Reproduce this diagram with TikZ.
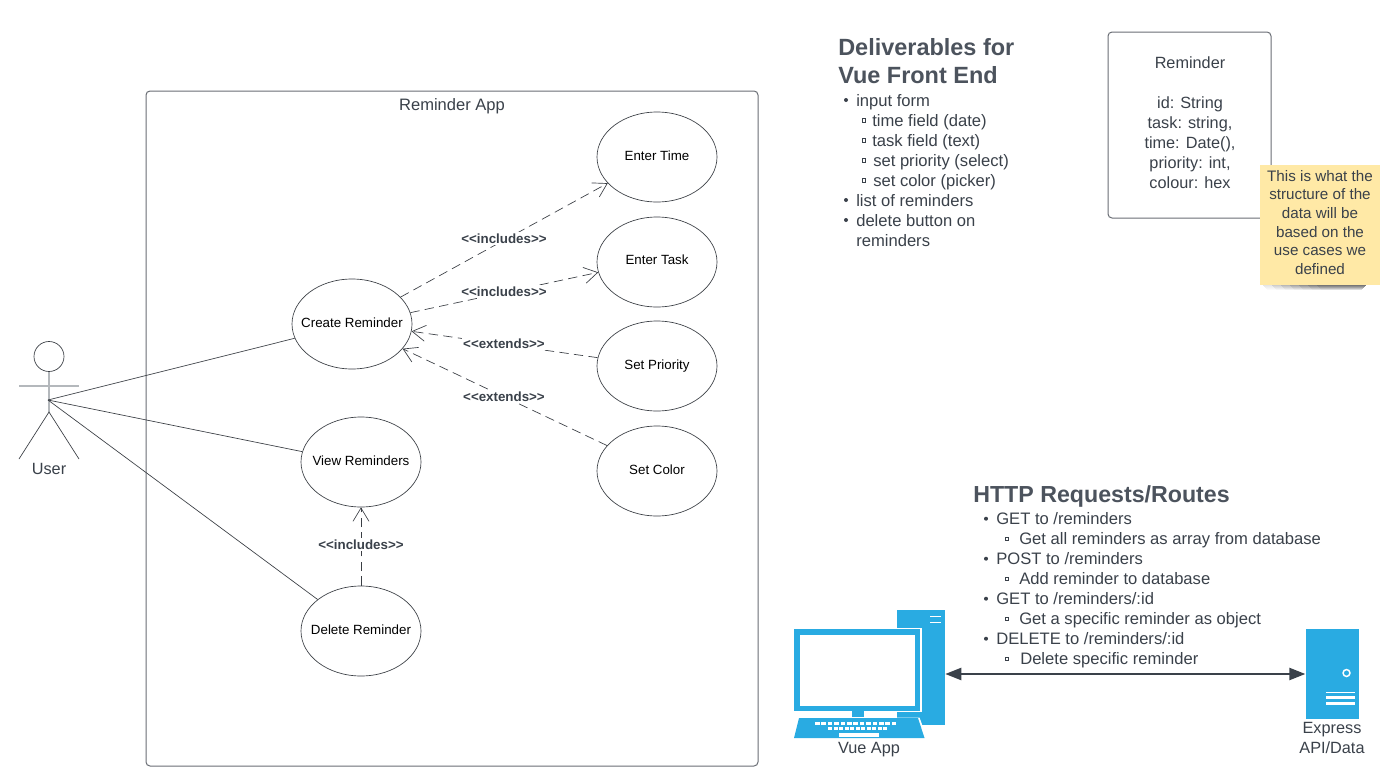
\documentclass[tikz,border=0pt]{standalone}
\usepackage{fontspec}
\setmainfont{Liberation Sans}
\usetikzlibrary{arrows.meta,shapes.geometric}
\definecolor{txt}{HTML}{3A414A}
\definecolor{ttl}{HTML}{4C535D}
\definecolor{lin}{HTML}{3A3E44}
\definecolor{boxc}{HTML}{6A6E75}
\definecolor{blu}{HTML}{29ABE2}
\definecolor{stick}{HTML}{FFE9A6}
\definecolor{actc}{HTML}{B4B8BC}
\tikzset{
  usecase/.style={ellipse,draw=lin,line width=0.5pt,fill=white,minimum width=90pt,minimum height=67.5pt,inner sep=0pt,text=black,font=\fontsize{10}{12}\selectfont},
  assoc/.style={draw=lin,line width=0.5pt},
  dep/.style={draw=lin,line width=0.5pt,dash pattern=on 7pt off 4pt,-{Straight Barb[length=10pt,width=12pt,line width=0.5pt]}},
  tag/.style={fill=white,inner sep=1pt,text=txt,font=\bfseries\fontsize{10}{12}\selectfont},
  line/.style={anchor=base west,inner sep=0pt,text=txt,font=\fontsize{12.45}{15}\selectfont},
  head/.style={anchor=base west,inner sep=0pt,text=ttl,font=\bfseries\fontsize{17.6}{21}\selectfont},
  plain/.style={inner sep=0pt,text=txt,align=center,font=\fontsize{12.2}{15}\selectfont},
  device/.style={rectangle,fill=blu,inner sep=0pt},
  hole/.style={fill=white,draw=none},
}
\newcommand{\uc}[2]{\raisebox{#1pt}{\makebox[0pt][c]{#2}}}
\newcommand{\bigbul}[4]{\fill[txt] (#2-10,#3-6) circle[radius=1.5pt];\node[line] (#1) at (#2,#3) {#4};}
\newcommand{\smallbul}[5]{\draw[txt,line width=0.6pt] (#5-1.8,#3-7.5) rectangle (#5+1.8,#3-3.9);\node[line] (#1) at (#2,#3) {#4};}
\begin{document}
\begin{tikzpicture}[x=0.75pt,y=-0.75pt]
\useasboundingbox (0,0) rectangle (1390,775);
\fill[white] (0,0) rectangle (1390,775);

% system boundary
\node[draw=boxc,line width=0.75pt,rounded corners=3pt,minimum width=459pt,minimum height=506.25pt,inner sep=0pt] (app) at (452,428.5) {};
\node[plain,font=\fontsize{12.4}{15}\selectfont] (apptitle) at (452,106) {Reminder App};

% use cases
\node[usecase] (time) at (657,157) {\uc{2.5}{Enter Time}};
\node[usecase] (task) at (657,262) {\uc{3.1}{Enter Task}};
\node[usecase] (prio) at (657,366) {\uc{0}{Set Priority}};
\node[usecase] (colr) at (657,471) {\uc{2.3}{Set Color}};
\node[usecase] (create) at (352,324) {\uc{2.3}{Create Reminder}};
\node[usecase] (view) at (361,462) {\uc{2.3}{View Reminders}};
\node[usecase] (del) at (361,631) {\uc{2.3}{Delete Reminder}};

% actor
\draw[actc,line width=1.5pt] (49,372) -- (49,412);
\draw[actc,line width=1.5pt] (19,386) -- (79,386);
\node[circle,draw=lin,line width=0.5pt,fill=white,minimum size=22.5pt,inner sep=0pt] (actorhead) at (49,356.5) {};
\draw[lin,line width=0.5pt] (19,459) -- (49,412) -- (79,459);
\node[plain] (user) at (49,469) {User};
\coordinate (hub) at (48,400);

\draw[assoc] (hub) -- (create.194.7);
\draw[assoc] (hub) -- (view.170.5);
\draw[assoc] (hub) -- (del.144.8);

% dependencies
\draw[dep] (create.29.7) -- (time.208);
\draw[dep] (create.11.7) -- (task.190.6);
\draw[dep] (prio.172.4) -- (create.-7.7);
\draw[dep] (colr.153.4) -- (create.-26.6);
\draw[dep] (del.north) -- (view.south);
\node[tag] (t1) at (504,238.5) {<{}<includes>{}>};
\node[tag] (t2) at (504,291.5) {<{}<includes>{}>};
\node[tag] (t3) at (504,343.5) {<{}<extends>{}>};
\node[tag] (t4) at (504,396.5) {<{}<extends>{}>};
\node[tag] (t5) at (361,544.5) {<{}<includes>{}>};

% deliverables
\node[head] (dh1) at (838,55) {Deliverables for};
\node[head] (dh2) at (838,83) {Vue Front End};
\bigbul{d1}{856}{106}{input form}
\smallbul{d2}{872}{126}{time field (date)}{864}
\smallbul{d3}{872}{146}{task field (text)}{864}
\smallbul{d4}{873}{166}{set priority (select)}{864}
\smallbul{d5}{873}{186}{set color (picker)}{864}
\bigbul{d6}{856}{206}{list of reminders}
\bigbul{d7}{856}{226}{delete button on}
\node[line] (d8) at (856,246) {reminders};

% data structure
\node[draw=boxc,line width=0.75pt,rounded corners=3pt,minimum width=122.25pt,minimum height=139.5pt,inner sep=0pt] (rem) at (1189.5,125) {};
\node[plain] (remtext) at (1190,123) {Reminder\\[15pt]id: String\\task: string,\\time: Date(),\\priority: int,\\colour: hex};

% sticky note
\foreach \r/\o in {0/0.10,1/0.08,2/0.06,3/0.04,4/0.02} {
  \foreach \s in {1263,1272,1281,1290,1299,1308,1317} {
    \fill[black,opacity=\o] (\s+\r,285+\r) rectangle (1366-\r,286+\r);
  }
}
\node[rectangle,fill=stick,minimum width=90pt,minimum height=90pt,inner sep=0pt] (note) at (1320,225) {};
\node[inner sep=0pt,text=txt,align=center,font=\fontsize{11.4}{14}\selectfont] (notetext) at (1320,222.5) {This is what the\\structure of the\\data will be\\based on the\\use cases we\\defined};

% HTTP list
\node[head,font=\bfseries\fontsize{17.4}{21}\selectfont] (hh) at (973,502.5) {HTTP Requests/Routes};
\bigbul{h1}{996}{524.7}{GET to /reminders}
\smallbul{h2}{1019}{544.7}{Get all reminders as array from database}{1007}
\bigbul{h3}{996}{564.7}{POST to /reminders}
\smallbul{h4}{1019}{584.7}{Add reminder to database}{1007}
\bigbul{h5}{996}{604.7}{GET to /reminders/:id}
\smallbul{h6}{1019}{624.7}{Get a specific reminder as object}{1007}
\bigbul{h7}{996}{644.7}{DELETE to /reminders/:id}
\smallbul{h8}{1020}{664.7}{Delete specific reminder}{1007}

% client computer
\node[device,minimum width=36pt,minimum height=86.25pt] (tower) at (921,667.5) {};
\fill[hole] (930,615.5) rectangle (941,616.5);
\fill[hole] (930,621.5) rectangle (941,622.5);
\fill[white] (793,628) rectangle (921.5,712);
\fill[blu] (794,629) rectangle (920,710.5);
\fill[hole] (800,635) rectangle (914.5,706);
\fill[blu] (851.5,711) rectangle (863.5,717);
\fill[white] (798,717.5) -- (919.5,717.5) -- (927,738) -- (926,738.5) -- (794,738.5) -- cycle;
\fill[blu] (799,718) -- (918,718) -- (924.5,738) -- (794,738) -- cycle;
\foreach \k in {0,...,12} {\fill[hole] ({815+\k*6.4},721.5) rectangle ({819.5+\k*6.4},725);}
\foreach \k in {0,...,10} {\fill[hole] ({828+\k*5.5},727) rectangle ({832+\k*5.5},730);}
\fill[hole] (838.5,733) rectangle (879,737);
\node[plain] (vue) at (869,749.5) {Vue App};

% server
\node[device,minimum width=40pt,minimum height=67.5pt] (server) at (1332.3,674) {};
\draw[white,line width=1.1pt] (1346.5,673) circle[radius=2.6pt];
\fill[hole] (1325.5,691.5) rectangle (1354.5,692.5);
\fill[hole] (1325.5,696) rectangle (1354.5,698.5);
\fill[hole] (1325.5,702) rectangle (1354.5,704.5);
\node[plain] (exp) at (1332,737.5) {Express\\API/Data};

% link
\draw[txt,line width=1.7pt,{Triangle[length=12pt,width=9pt]}-{Triangle[length=12pt,width=9pt]}] (tower.east |- server.west) -- (server.west);
\end{tikzpicture}
\end{document}
